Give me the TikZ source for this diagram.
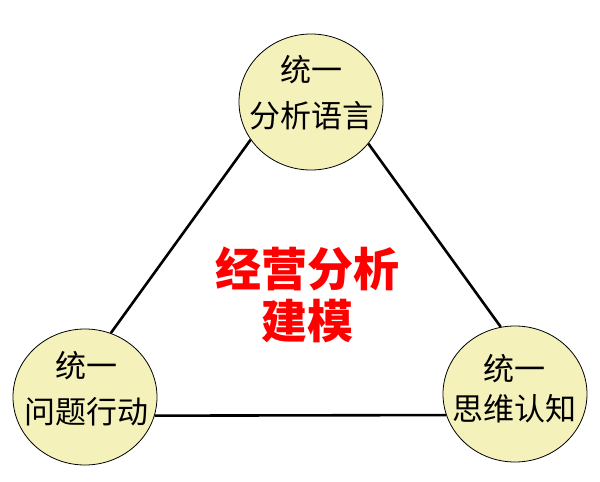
\documentclass[tikz,border=0pt]{standalone}
\usepackage{fontspec}
\newfontfamily\cjk{Noto Sans CJK SC}
\usetikzlibrary{shapes.geometric}
\definecolor{hubfill}{RGB}{245,241,186}

\begin{document}
\begin{tikzpicture}[x=1pt, y=-1pt, line cap=butt, line join=round,
  hub/.style={ellipse, draw=black, line width=0.8pt, fill=hubfill,
    minimum width=144pt, minimum height=136pt, inner sep=0pt},
  hubtext/.style={align=center, font=\cjk\fontsize{31}{46}\selectfont},
  side/.style={black, line width=2.6pt}]

  \useasboundingbox (0,0) rectangle (600,482);

  %% ---- three circles ----
  \node[hub] (lang)  at (311,102) {};
  \node[hub] (act)   at (85,397)  {};
  \node[hub] (think) at (515,394) {};

  %% ---- circle texts ----
  \node[hubtext] (langtext)  at (311,93)  {统一\\分析语言};
  \node[hubtext] (acttext)   at (86,389)  {统一\\问题行动};
  \node[hubtext, font=\cjk\fontsize{31}{40}\selectfont] (thinktext) at (514,389) {统一\\思维认知};

  %% ---- triangle sides ----
  \draw[side] (lang.212) -- (act.68);
  \draw[side] (lang.324) -- (think.102);
  \draw[side] (act.345)  -- (think.197);

  %% ---- centre title ----
  \node[red, align=center, font=\cjk\bfseries\fontsize{46}{52}\selectfont]
    (title) at (307,295) {经营分析\\建模};

\end{tikzpicture}
\end{document}
